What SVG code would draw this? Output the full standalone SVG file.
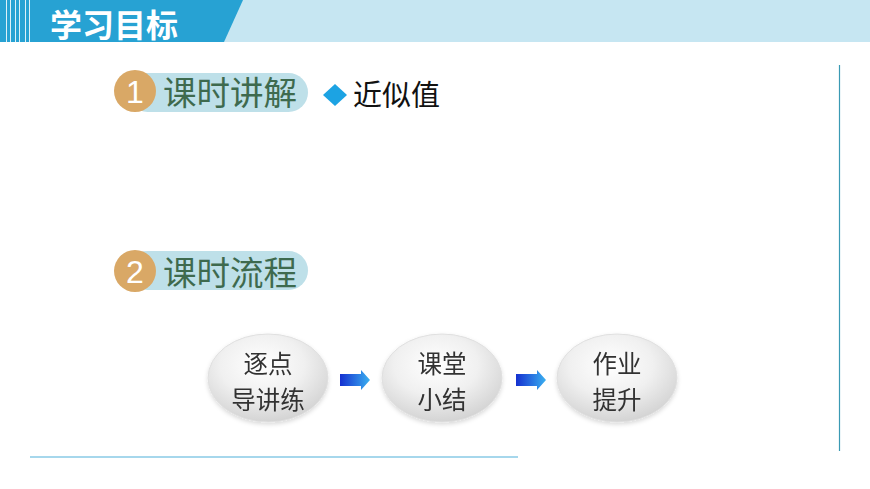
<svg xmlns="http://www.w3.org/2000/svg" width="870" height="489" viewBox="0 0 870 489">
<defs>
<style>
.cjk{font-family:"Noto Sans CJK SC","Noto Sans",sans-serif}
.pill{fill:#BEE0E9}
.num{fill:#D9A866}
.numtxt{fill:#fff;font-family:"Liberation Sans",sans-serif;font-size:32px;text-anchor:middle}
.head{fill:#3E6A4E;font-size:33.5px}
.node{fill:url(#eg);stroke:#e0e0e0;stroke-width:1}
.ntxt{fill:#333;font-size:24.5px;text-anchor:middle}
.arr{fill:url(#ag)}
</style>
<radialGradient id="eg" cx="0.45" cy="0.35" r="0.7">
<stop offset="0" stop-color="#ffffff"/>
<stop offset="0.5" stop-color="#f0f0f0"/>
<stop offset="1" stop-color="#cfcfcf"/>
</radialGradient>
<linearGradient id="ag" x1="0" y1="0" x2="1" y2="0">
<stop offset="0" stop-color="#1530D0"/>
<stop offset="1" stop-color="#3AB0F0"/>
</linearGradient>
<filter id="sh" x="-20%" y="-20%" width="140%" height="140%">
<feDropShadow dx="0" dy="2" stdDeviation="2" flood-color="#000" flood-opacity="0.15"/>
</filter>
</defs>
<rect width="870" height="489" fill="#fff"/>
<g id="banner">
<rect x="0" y="0" width="870" height="42" fill="#C6E6F2"/>
<polygon points="0,0 243,0 224,42 0,42" fill="#27A2D3"/>
<g stroke="#ffffff" stroke-width="1" opacity="0.85">
<line x1="6.5" y1="0" x2="6.5" y2="42"/>
<line x1="10.5" y1="0" x2="10.5" y2="42"/>
<line x1="15.5" y1="0" x2="15.5" y2="42"/>
<line x1="19.5" y1="0" x2="19.5" y2="42"/>
<line x1="25.5" y1="0" x2="25.5" y2="42"/>
<line x1="29.5" y1="0" x2="29.5" y2="42"/>
</g>
<text x="50" y="37" class="cjk" font-size="32" font-weight="bold" fill="#fff">学习目标</text>
</g>
<g id="section1">
<rect x="128" y="73" width="180" height="39" rx="19.5" class="pill"/>
<circle cx="135" cy="91" r="21" class="num"/>
<text x="135" y="102.5" class="numtxt">1</text>
<text x="163" y="105" class="cjk head">课时讲解</text>
</g>
<g id="topic">
<polygon points="323,95 335,84 347,95 335,106" fill="#1CA3E3"/>
<text x="353" y="106" class="cjk" font-size="29" fill="#111">近似值</text>
</g>
<g id="section2">
<rect x="128" y="251" width="180" height="39" rx="19.5" class="pill"/>
<circle cx="135" cy="271" r="21" class="num"/>
<text x="135" y="282.5" class="numtxt">2</text>
<text x="163" y="285" class="cjk head">课时流程</text>
</g>
<g id="node1" filter="url(#sh)">
<ellipse cx="268" cy="378" rx="60" ry="44" class="node"/>
<text class="cjk ntxt"><tspan x="268" y="373">逐点</tspan><tspan x="268" y="409">导讲练</tspan></text>
</g>
<g id="node2" filter="url(#sh)">
<ellipse cx="442" cy="378" rx="60" ry="44" class="node"/>
<text class="cjk ntxt"><tspan x="442" y="373">课堂</tspan><tspan x="442" y="409">小结</tspan></text>
</g>
<g id="node3" filter="url(#sh)">
<ellipse cx="617" cy="378" rx="60" ry="44" class="node"/>
<text class="cjk ntxt"><tspan x="617" y="373">作业</tspan><tspan x="617" y="409">提升</tspan></text>
</g>
<g id="connectors">
<polygon class="arr" points="340,374 361,374 361,370 370,380 361,390 361,386 340,386"/>
<polygon class="arr" points="516,374 537,374 537,370 546,380 537,390 537,386 516,386"/>
</g>
<g id="frame">
<line x1="839.5" y1="65" x2="839.5" y2="451" stroke="#3A9AB4" stroke-width="1.2"/>
<rect x="30" y="456" width="488" height="2" fill="#A6D7EC"/>
</g>
</svg>
